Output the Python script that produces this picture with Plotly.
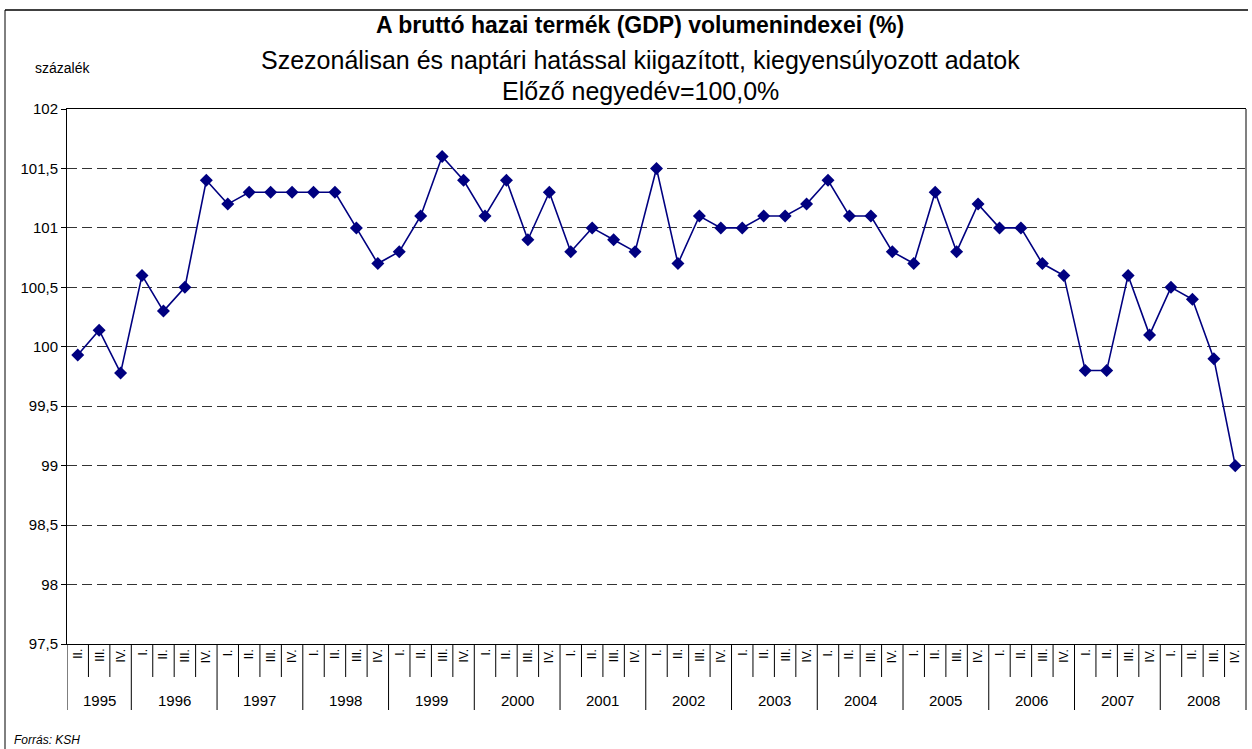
import plotly.graph_objects as go

# ---- data ----
years = ["1995", "1996", "1997", "1998", "1999", "2000", "2001",
         "2002", "2003", "2004", "2005", "2006", "2007", "2008"]
quarters_1995 = ["II.", "III.", "IV."]
quarters_full = ["I.", "II.", "III.", "IV."]
values = [
    99.93, 100.14, 99.78,
    100.6, 100.3, 100.5, 101.4,
    101.2, 101.3, 101.3, 101.3,
    101.3, 101.3, 101.0, 100.7,
    100.8, 101.1, 101.6, 101.4,
    101.1, 101.4, 100.9, 101.3,
    100.8, 101.0, 100.9, 100.8,
    101.5, 100.7, 101.1, 101.0,
    101.0, 101.1, 101.1, 101.2,
    101.4, 101.1, 101.1, 100.8,
    100.7, 101.3, 100.8, 101.2,
    101.0, 101.0, 100.7, 100.6,
    99.8, 99.8, 100.6, 100.1,
    100.5, 100.4, 99.9, 99.0,
]
y_ticks = [97.5, 98, 98.5, 99, 99.5, 100, 100.5, 101, 101.5, 102]
y_ticktext = ["97,5", "98", "98,5", "99", "99,5", "100", "100,5", "101", "101,5", "102"]

# category structure
q_labels = []
year_of = []
for y in years:
    qs = quarters_1995 if y == "1995" else quarters_full
    for q in qs:
        q_labels.append(q)
        year_of.append(y)
xs = list(range(len(values)))

# ---- layout geometry (pixels) ----
W, H = 1252, 749
L, R, T, B = 67, 1246, 109, 644
PW, PH = R - L, B - T


def px(xp):
    return (xp - L) / PW


def py(yp):
    return (B - yp) / PH


FONT = "Liberation Sans, Arial, sans-serif"

fig = go.Figure()
fig.add_trace(go.Scatter(
    x=xs, y=values, mode="lines+markers",
    line=dict(color="#000080", width=1.6),
    marker=dict(symbol="diamond", size=10, color="#000080"),
    hoverinfo="y", showlegend=False,
))

shapes = []
annotations = []

# quarter labels and dividers
for i, q in enumerate(q_labels):
    annotations.append(dict(
        x=i, y=py(647), xref="x", yref="paper", text=q, textangle=-90,
        showarrow=False, xanchor="center", yanchor="top",
        font=dict(family=FONT, size=12, color="black"),
    ))

boundaries_year = set()
idx = 0
year_centers = []
for y in years:
    n = 3 if y == "1995" else 4
    year_centers.append((idx + idx + n - 1) / 2)
    boundaries_year.add(idx - 0.5)
    idx += n
boundaries_year.add(idx - 0.5)

for k in range(len(values) + 1):
    b = k - 0.5
    long = b in boundaries_year
    shapes.append(dict(
        type="line", xref="x", yref="paper", x0=b, x1=b,
        y0=0, y1=py(710 if long else 677),
        line=dict(color="black", width=1),
    ))

for y, c in zip(years, year_centers):
    annotations.append(dict(
        x=c, y=py(700), xref="x", yref="paper", text=y,
        showarrow=False, xanchor="center", yanchor="middle",
        font=dict(family=FONT, size=15, color="black"),
    ))

# frame extras
shapes.append(dict(type="line", xref="paper", yref="paper",
                   x0=1, x1=1, y0=py(B + 66), y1=1,
                   line=dict(color="#808080", width=2)))
# outer chart border
shapes.append(dict(type="line", xref="paper", yref="paper",
                   x0=px(5), x1=px(1248), y0=py(10), y1=py(10),
                   line=dict(color="#404040", width=2)))
shapes.append(dict(type="line", xref="paper", yref="paper",
                   x0=px(5), x1=px(5), y0=py(10), y1=py(760),
                   line=dict(color="black", width=1)))

# titles
title_x = px(640)
annotations += [
    dict(x=title_x, y=py(25), xref="paper", yref="paper",
         text="<b>A bruttó hazai termék (GDP) volumenindexei (%)</b>",
         showarrow=False, xanchor="center", yanchor="middle",
         font=dict(family=FONT, size=23, color="black")),
    dict(x=title_x, y=py(60), xref="paper", yref="paper",
         text="Szezonálisan és naptári hatással kiigazított, kiegyensúlyozott adatok",
         showarrow=False, xanchor="center", yanchor="middle",
         font=dict(family=FONT, size=25, color="black")),
    dict(x=title_x, y=py(91), xref="paper", yref="paper",
         text="Előző negyedév=100,0%",
         showarrow=False, xanchor="center", yanchor="middle",
         font=dict(family=FONT, size=25, color="black")),
    dict(x=px(33), y=py(68), xref="paper", yref="paper",
         text="százalék", showarrow=False, xanchor="left", yanchor="middle",
         font=dict(family=FONT, size=14, color="black")),
    dict(x=px(12), y=py(740), xref="paper", yref="paper",
         text="<i>Forrás: KSH</i>", showarrow=False, xanchor="left",
         yanchor="middle",
         font=dict(family=FONT, size=12, color="black")),
]

fig.update_layout(
    width=W, height=H,
    margin=dict(l=L, r=W - R, t=T, b=H - B, pad=0),
    paper_bgcolor="white", plot_bgcolor="white",
    shapes=shapes, annotations=annotations,
    showlegend=False,
    xaxis=dict(range=[-0.5, len(values) - 0.5], showticklabels=False,
               showgrid=False, zeroline=False, ticks="",
               showline=True, linecolor="black", linewidth=1, mirror=True,
               fixedrange=True),
    yaxis=dict(range=[97.5, 102], tickvals=y_ticks, ticktext=y_ticktext,
               showgrid=True, gridcolor="#333333", griddash="10px,5px",
               gridwidth=1, zeroline=False, ticks="outside", ticklen=5,
               tickcolor="black", showline=True, linecolor="black",
               linewidth=1, tickfont=dict(family=FONT, size=15, color="black"),
               fixedrange=True),
)

fig.write_html("out.html",
               config={"displayModeBar": False},
               post_script="document.body.style.margin='0';"
                           "document.body.style.overflow='hidden';")
